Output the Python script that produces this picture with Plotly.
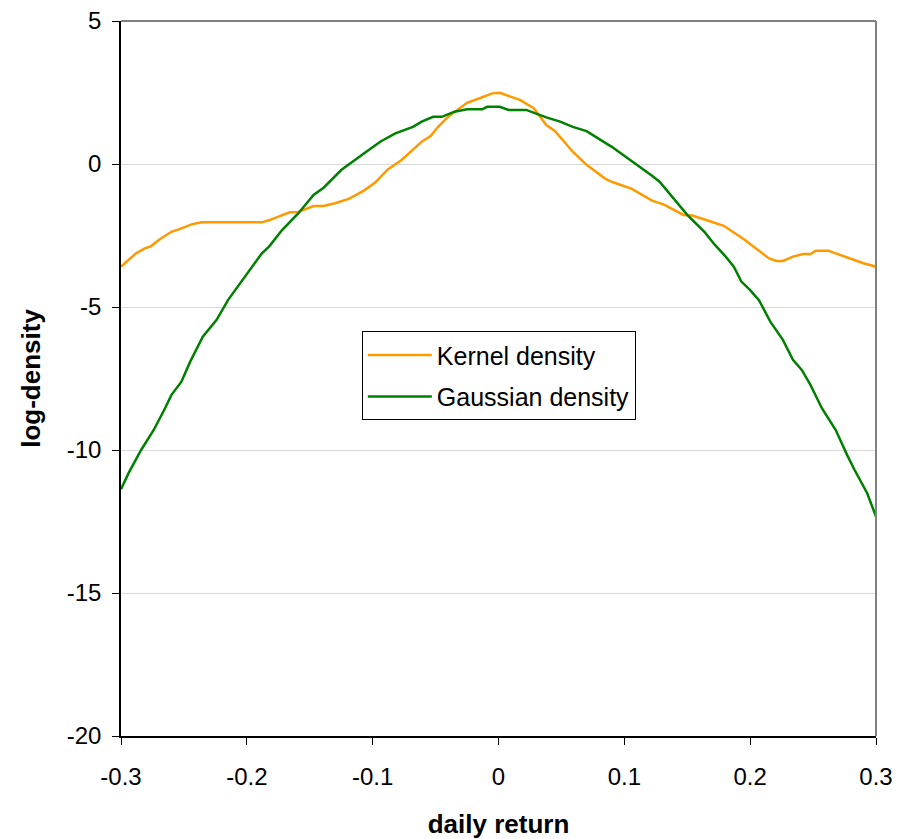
import plotly.graph_objects as go

# Kernel density estimate (log scale)
kernel_x = [-0.300, -0.288, -0.281, -0.276, -0.270, -0.260, -0.253, -0.244, -0.236, -0.188,
            -0.182, -0.172, -0.166, -0.160, -0.147, -0.139, -0.130, -0.119, -0.107, -0.098,
            -0.088, -0.077, -0.068, -0.061, -0.054, -0.048, -0.040, -0.032, -0.025, -0.015,
            -0.005, 0.001, 0.017, 0.028, 0.038, 0.045, 0.059, 0.070, 0.085, 0.091,
            0.106, 0.122, 0.132, 0.147, 0.154, 0.165, 0.179, 0.195, 0.205, 0.215,
            0.221, 0.226, 0.234, 0.242, 0.248, 0.252, 0.262, 0.277, 0.290, 0.300]
kernel_y = [-3.59, -3.12, -2.95, -2.87, -2.66, -2.37, -2.27, -2.11, -2.04, -2.04,
            -1.96, -1.78, -1.69, -1.69, -1.47, -1.47, -1.37, -1.22, -0.93, -0.65,
            -0.19, 0.14, 0.49, 0.78, 0.98, 1.30, 1.65, 1.91, 2.14, 2.30,
            2.47, 2.49, 2.24, 1.95, 1.36, 1.15, 0.43, -0.03, -0.52, -0.64,
            -0.87, -1.28, -1.43, -1.78, -1.80, -1.96, -2.16, -2.63, -2.95, -3.30,
            -3.39, -3.39, -3.24, -3.15, -3.15, -3.03, -3.03, -3.28, -3.47, -3.59]

# Gaussian density (log scale)
gauss_x = [-0.300, -0.294, -0.284, -0.274, -0.265, -0.260, -0.252, -0.245, -0.235, -0.224,
           -0.215, -0.203, -0.188, -0.182, -0.172, -0.159, -0.147, -0.139, -0.125, -0.107,
           -0.094, -0.082, -0.068, -0.061, -0.052, -0.045, -0.035, -0.025, -0.013, -0.009,
           0.001, 0.008, 0.022, 0.038, 0.049, 0.059, 0.070, 0.090, 0.102, 0.112,
           0.122, 0.128, 0.136, 0.150, 0.164, 0.172, 0.180, 0.187, 0.193, 0.200,
           0.207, 0.211, 0.216, 0.226, 0.234, 0.241, 0.248, 0.257, 0.268, 0.277,
           0.283, 0.293, 0.300]
gauss_y = [-11.37, -10.81, -10.00, -9.30, -8.54, -8.08, -7.61, -6.91, -6.04, -5.45,
           -4.76, -4.03, -3.12, -2.87, -2.31, -1.72, -1.08, -0.83, -0.21, 0.37,
           0.78, 1.07, 1.30, 1.48, 1.65, 1.65, 1.83, 1.91, 1.91, 2.00,
           2.00, 1.89, 1.89, 1.63, 1.48, 1.30, 1.15, 0.60, 0.22, -0.07,
           -0.41, -0.62, -1.05, -1.78, -2.39, -2.83, -3.21, -3.59, -4.11, -4.41,
           -4.76, -5.10, -5.51, -6.15, -6.85, -7.20, -7.73, -8.54, -9.30, -10.17,
           -10.70, -11.51, -12.33]

x_ticks = [-0.3, -0.2, -0.1, 0, 0.1, 0.2, 0.3]
x_tick_text = ["-0.3", "-0.2", "-0.1", "0", "0.1", "0.2", "0.3"]
y_ticks = [-20, -15, -10, -5, 0, 5]
y_tick_text = ["-20", "-15", "-10", "-5", "0", "5"]

FONT = "Liberation Sans, Arial, sans-serif"

fig = go.Figure()
fig.add_trace(go.Scatter(x=kernel_x, y=kernel_y, mode="lines", name="Kernel density",
                         legendgroup="k", line=dict(color="#FF9900", width=2.5)))
fig.add_trace(go.Scatter(x=gauss_x, y=gauss_y, mode="lines", name="Gaussian density",
                         legendgroup="g", line=dict(color="#008000", width=2.5)))

fig.update_layout(
    width=913, height=839,
    margin=dict(l=121, r=37, t=21, b=103, autoexpand=False),
    paper_bgcolor="white", plot_bgcolor="white",
    font=dict(family=FONT, size=24, color="black"),
    showlegend=True,
    legend=dict(x=0.319, y=0.566, xanchor="left", yanchor="top",
                bordercolor="black", borderwidth=1, bgcolor="white",
                font=dict(size=25), tracegroupgap=6, traceorder="grouped",
                itemwidth=64),
    xaxis=dict(range=[-0.3, 0.3], tickvals=x_ticks, ticktext=x_tick_text, automargin=False,
               showgrid=False, zeroline=False, showline=True, linecolor="black", linewidth=1.5,
               ticks="outside", ticklen=7, tickcolor="black", ticklabelstandoff=11,
               title=dict(text="<b>daily return</b>", font=dict(size=26), standoff=28)),
    yaxis=dict(range=[-20, 5], tickvals=y_ticks, ticktext=y_tick_text, automargin=False,
               showgrid=True, gridcolor="#D9D9D9", gridwidth=1, zeroline=False,
               showline=True, linecolor="black", linewidth=1.5,
               ticks="outside", ticklen=7, tickcolor="black", ticklabelstandoff=6,
               title=dict(text="<b>log-density</b>", font=dict(size=26), standoff=19)),
    shapes=[
        dict(type="line", xref="paper", yref="paper", x0=0, x1=1, y0=1, y1=1,
             line=dict(color="#808080", width=2)),
        dict(type="line", xref="paper", yref="paper", x0=1, x1=1, y0=0, y1=1,
             line=dict(color="#808080", width=2)),
    ],
)

fig.write_html("out.html")
